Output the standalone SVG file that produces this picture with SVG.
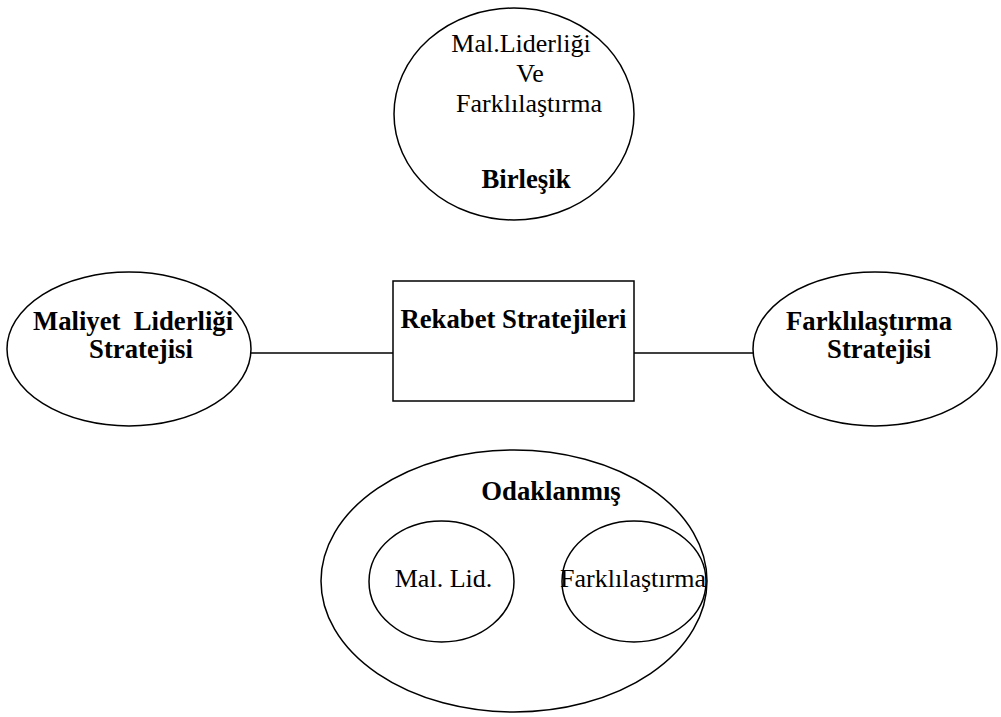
<svg xmlns="http://www.w3.org/2000/svg" width="1001" height="717" viewBox="0 0 1001 717" font-family="'Liberation Serif', 'Times New Roman', Times, serif">
<style>
.shape{fill:#fff;stroke:#000;stroke-width:1.5}
.conn line{stroke:#000;stroke-width:1.5}
text{font-family:'Liberation Serif','Times New Roman',Times,serif;font-size:26px;fill:#000}
.b{font-weight:bold;font-size:26.7px}
</style>
<rect width="1001" height="717" fill="#fff"/>
<g class="conn" id="connectors">
<line x1="250" y1="353" x2="393" y2="353"/>
<line x1="634" y1="353" x2="753" y2="353"/>
</g>
<g id="birlesik">
<ellipse class="shape" cx="514" cy="114" rx="120" ry="106"/>
<text x="521" y="52" text-anchor="middle">Mal.Liderliği</text>
<text x="530" y="82" text-anchor="middle">Ve</text>
<text x="529" y="112" text-anchor="middle">Farklılaştırma</text>
<text class="b" x="526" y="188" text-anchor="middle">Birleşik</text>
</g>
<g id="maliyet">
<ellipse class="shape" cx="129" cy="349" rx="122" ry="77"/>
<text class="b" x="33" y="330" xml:space="preserve">Maliyet  Liderliği</text>
<text class="b" x="141" y="358" text-anchor="middle">Stratejisi</text>
</g>
<g id="rekabet">
<rect class="shape" x="393" y="281" width="241" height="120"/>
<text class="b" x="513.5" y="328" text-anchor="middle">Rekabet Stratejileri</text>
</g>
<g id="farklilastirma">
<ellipse class="shape" cx="875" cy="349" rx="122" ry="77"/>
<text class="b" x="869" y="330" text-anchor="middle">Farklılaştırma</text>
<text class="b" x="879" y="358" text-anchor="middle">Stratejisi</text>
</g>
<g id="odaklanmis">
<ellipse class="shape" cx="514" cy="581" rx="193" ry="131"/>
<text class="b" x="551" y="500" text-anchor="middle">Odaklanmış</text>
</g>
<g id="mallid">
<ellipse class="shape" cx="441.5" cy="581.5" rx="72.5" ry="60.5"/>
<text x="443.5" y="587" text-anchor="middle">Mal. Lid.</text>
</g>
<g id="fark2">
<ellipse class="shape" cx="634" cy="581.5" rx="72" ry="60.5"/>
<text x="633" y="587" text-anchor="middle">Farklılaştırma</text>
</g>
</svg>
